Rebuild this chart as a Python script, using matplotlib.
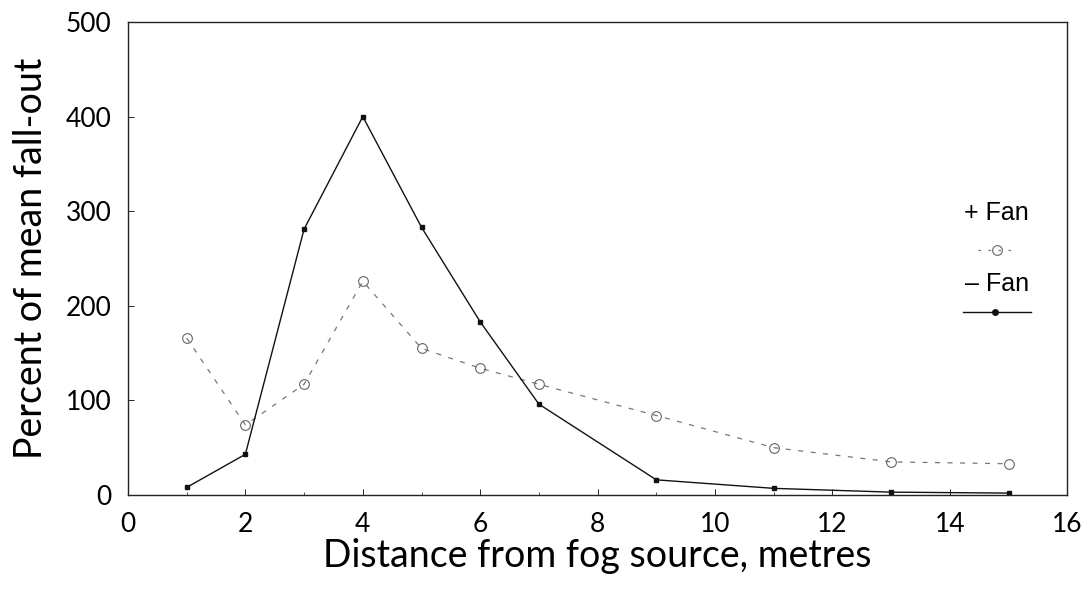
import numpy as np
import matplotlib.pyplot as plt
from matplotlib.ticker import MultipleLocator

# Datos
distance = [1, 2, 3, 4, 5, 6, 7, 9, 11, 13, 15]
fan_on = [166, 74, 117, 226, 155, 134, 117, 84, 50, 35, 33]      # + Fan (circulos, discontinua)
fan_off = [8, 43, 281, 400, 283, 183, 96, 16, 7, 3, 2]          # - Fan (puntos, continua)

xticks = [0, 2, 4, 6, 8, 10, 12, 14, 16]
yticks = [0, 100, 200, 300, 400, 500]

fig = plt.figure(figsize=(10.88, 5.94), dpi=100)
ax = fig.add_axes([0.1176, 0.1667, 0.8634, 0.7963])

ax.plot(distance, fan_on, '--', color='#777777', lw=0.9, dashes=(4, 6),
        marker='o', ms=7, mfc='none', mec='#666666', mew=0.8)
ax.plot(distance, fan_off, '-', color='#111111', lw=1.0,
        marker='s', ms=3.5, mfc='#111111', mec='#111111')

ax.set_xlim(0, 16)
ax.set_ylim(0, 500)
ax.set_xticks(xticks)
ax.set_yticks(yticks)
ax.xaxis.set_minor_locator(MultipleLocator(1))
ax.tick_params(direction='in', length=4, width=0.6, labelsize=19, pad=12)
ax.tick_params(which='minor', direction='in', length=2, width=0.5)
for lab in ax.get_xticklabels() + ax.get_yticklabels():
    lab.set_family('Lato')
for s in ax.spines.values():
    s.set_linewidth(1.0)
    s.set_color('#222222')

ax.set_xlabel('Distance from fog source, metres', fontsize=27, family='Lato', labelpad=1)
ax.set_ylabel('Percent of mean fall-out', fontsize=27, family='Lato', labelpad=12)

# Leyenda manual (etiqueta encima de la muestra)
ax.text(0.925, 0.596, '+ Fan', transform=ax.transAxes, ha='center', va='center',
        fontsize=18, family='Liberation Sans')
ax.plot([0.905, 0.945], [0.518, 0.518], '--', transform=ax.transAxes, color='#777777',
        lw=0.9, dashes=(2, 6), clip_on=False)
ax.plot([0.925], [0.518], 'o', transform=ax.transAxes, ms=7, mfc='none', mec='#666666',
        mew=0.8, clip_on=False)
ax.text(0.925, 0.445, '\u2013 Fan', transform=ax.transAxes, ha='center', va='center',
        fontsize=18, family='Liberation Sans')
ax.plot([0.889, 0.961], [0.387, 0.387], '-', transform=ax.transAxes, color='#111111',
        lw=1.0, clip_on=False)
ax.plot([0.923], [0.387], 'o', transform=ax.transAxes, ms=4, color='#111111', clip_on=False)

fig.savefig('out.png', dpi=100)
